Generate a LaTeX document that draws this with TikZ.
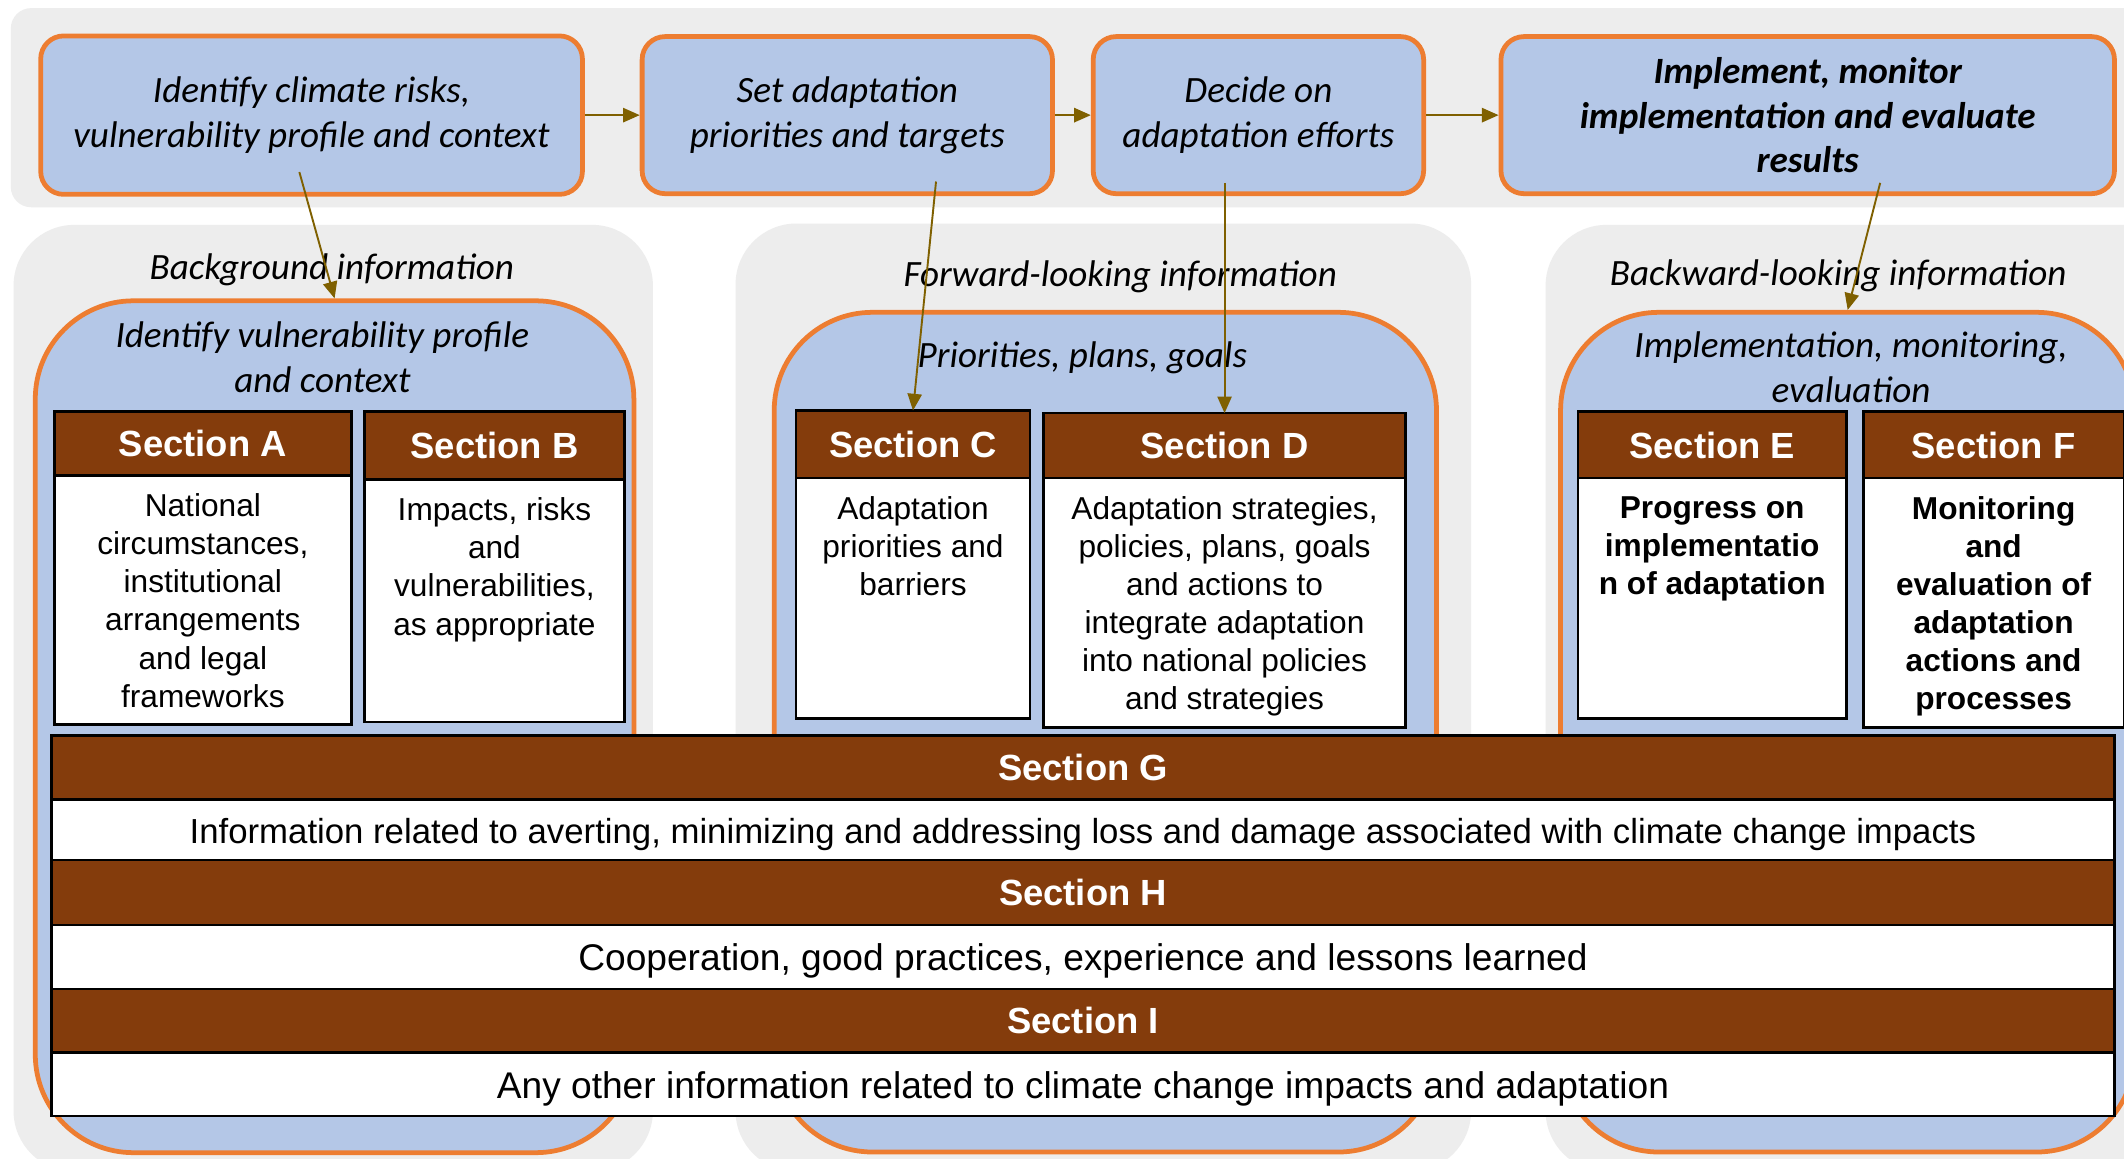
\documentclass[tikz,border=0pt]{standalone}
\usepackage{fontspec}
\usepackage{tikz}
\usetikzlibrary{arrows.meta,positioning}
\newfontfamily\calfont{Carlito}
\newfontfamily\arialfont{Liberation Sans}
\definecolor{bggrey}{RGB}{237,237,237}
\definecolor{panelblue}{RGB}{180,199,231}
\definecolor{edgeorange}{RGB}{237,125,49}
\definecolor{secbrown}{RGB}{132,60,12}
\definecolor{flowolive}{RGB}{127,96,0}

\begin{document}
\begin{tikzpicture}[x=0.02cm,y=-0.02cm,
		stepbox/.style={draw=edgeorange,line width=2pt,fill=panelblue,rounded corners=0.34cm,align=center,inner sep=0pt,font=\calfont\itshape\fontsize{15.6}{18.8}\selectfont},
		panel/.style={draw=edgeorange,line width=2pt,fill=panelblue,rounded corners=1.45cm,inner sep=0pt},
		info/.style={align=center,inner sep=0pt,font=\calfont\itshape\fontsize{15.6}{18.8}\selectfont},
		sechead/.style={draw=black,line width=1.1pt,fill=secbrown,text=white,inner sep=0pt,outer sep=0pt,font=\arialfont\bfseries\fontsize{15.3}{18}\selectfont},
		secbody/.style={draw=black,line width=1.1pt,fill=white,inner sep=0pt,outer sep=0pt,align=center,text height=14.8pt,text depth=3.3pt,font=\arialfont\fontsize{15.6}{18}\selectfont},
		sectext/.style={align=center,inner sep=0pt,font=\arialfont\fontsize{13.3}{16}\selectfont},
		flow/.style={draw=flowolive,line width=0.8pt,-{Triangle[length=7pt,width=6pt]}}]
		
		\useasboundingbox (0,0) rectangle (1568,855);
		\clip (0,0) rectangle (1568,855);
		\fill[white] (0,0) rectangle (1568,855);
		
		\fill[bggrey,rounded corners=0.3cm] (8,6) rectangle (1620,153);
		\fill[bggrey,rounded corners=0.9cm] (10,166) rectangle (482,865);
		\fill[bggrey,rounded corners=0.9cm] (543,165) rectangle (1086,865);
		\fill[bggrey,rounded corners=0.9cm] (1141,166) rectangle (1640,865);
		
		\node[panel,minimum width=8.84cm,minimum height=12.58cm] (bL) at (247,536.5) {};
		\node[panel,minimum width=9.78cm,minimum height=12.4cm] (bM) at (816,540.5) {};
		\node[panel,minimum width=8.48cm,minimum height=12.4cm] (bR) at (1364,540.5) {};
		
		\node[info] (iL) at (245,199) {Background information};
		\node[info] (pL) at (238,263.5) {Identify vulnerability profile\\and context};
		\node[info] (iM) at (827,204.5) {Forward-looking information};
		\node[info] (pM) at (799,264.5) {Priorities, plans, goals};
		\node[info] (iR) at (1357,203.5) {Backward-looking information};
		\node[info] (pR) at (1366.5,271) {Implementation, monitoring,\\evaluation};
		
		\node[stepbox,minimum width=8cm,minimum height=2.34cm] (t1) at (230,85) {Identify climate risks,\\vulnerability profile and context};
		\node[stepbox,minimum width=6.06cm,minimum height=2.32cm] (t2) at (625.5,85) {Set adaptation\\priorities and targets};
		\node[stepbox,minimum width=4.88cm,minimum height=2.32cm] (t3) at (929,85) {Decide on\\adaptation efforts};
		\node[stepbox,minimum width=9.06cm,minimum height=2.32cm,font=\calfont\bfseries\itshape\fontsize{15.6}{18.8}\selectfont] (t4) at (1334.5,85) {Implement, monitor\\implementation and evaluate\\results};
		
		\node[sechead,minimum width=4.39cm,minimum height=0.94cm] (hA) at (149.75,327.5) {Section A};
		\node[secbody,minimum width=4.39cm,minimum height=3.68cm,below=0pt of hA] (bA) {};
		\node[sectext,below=7.5pt of bA.north] (xA) {National\\circumstances,\\institutional\\arrangements\\and legal\\frameworks};
		
		\node[sechead,minimum width=3.84cm,minimum height=1cm] (hB) at (365,329) {Section B};
		\node[secbody,minimum width=3.84cm,minimum height=3.58cm,below=0pt of hB] (bB) {};
		\node[sectext,below=7.5pt of bB.north] (xB) {Impacts, risks\\and\\vulnerabilities,\\as appropriate};
		
		\node[sechead,minimum width=3.46cm,minimum height=1cm] (hC) at (674,328) {Section C};
		\node[secbody,minimum width=3.46cm,minimum height=3.55cm,below=0pt of hC] (bC) {};
		\node[sectext,below=7.5pt of bC.north] (xC) {Adaptation\\priorities and\\barriers};
		
		\node[sechead,minimum width=5.34cm,minimum height=0.96cm] (hD) at (904,329) {Section D};
		\node[secbody,minimum width=5.34cm,minimum height=3.68cm,below=0pt of hD] (bD) {};
		\node[sectext,below=7.5pt of bD.north] (xD) {Adaptation strategies,\\policies, plans, goals\\and actions to\\integrate adaptation\\into national policies\\and strategies};
		
		\node[sechead,minimum width=3.97cm,minimum height=0.98cm] (hE) at (1264,328.5) {Section E};
		\node[secbody,minimum width=3.97cm,minimum height=3.55cm,below=0pt of hE] (bE) {};
		\node[sectext,font=\arialfont\bfseries\fontsize{13.3}{16}\selectfont,below=7.5pt of bE.north] (xE) {Progress on\\implementatio\\n of adaptation};
		
		\node[sechead,minimum width=3.85cm,minimum height=0.98cm] (hF) at (1471.75,328.5) {Section F};
		\node[secbody,minimum width=3.85cm,minimum height=3.68cm,below=0pt of hF] (bF) {};
		\node[sectext,font=\arialfont\bfseries\fontsize{13.3}{16}\selectfont,below=7.5pt of bF.north] (xF) {Monitoring\\and\\evaluation of\\adaptation\\actions and\\processes};
		
		\node[sechead,minimum width=30.46cm,minimum height=0.94cm] (hG) at (799.5,566.5) {Section G};
		\node[secbody,minimum width=30.46cm,minimum height=0.9cm,font=\arialfont\fontsize{14.6}{18}\selectfont,below=0pt of hG] (bG) {Information related to averting, minimizing and addressing loss and damage associated with climate change impacts};
		\node[sechead,minimum width=30.46cm,minimum height=0.96cm] (hH) at (799.5,659) {Section H};
		\node[secbody,minimum width=30.46cm,minimum height=0.94cm,below=0pt of hH] (bH) {Cooperation, good practices, experience and lessons learned};
		\node[sechead,minimum width=30.46cm,minimum height=0.94cm] (hI) at (799.5,753.5) {Section I};
		\node[secbody,minimum width=30.46cm,minimum height=0.94cm,below=0pt of hI] (bI) {Any other information related to climate change impacts and adaptation};
		
		\coordinate (f1) at (221,127);
		\coordinate (f2) at (691,134);
		\coordinate (f3) at (904,135);
		\coordinate (f4) at (1388,135);
		
		\draw[flow] (t1) -- (t2);
		\draw[flow] (t2) -- (t3);
		\draw[flow] (t3) -- (t4);
		\draw[flow] (f1) -- (bL.north);
		\draw[flow] (f2) -- (hC.north);
		\draw[flow] (f3) -- (hD.north);
		\draw[flow] (f4) -- (bR.north);
		\end{tikzpicture}
\end{document}
